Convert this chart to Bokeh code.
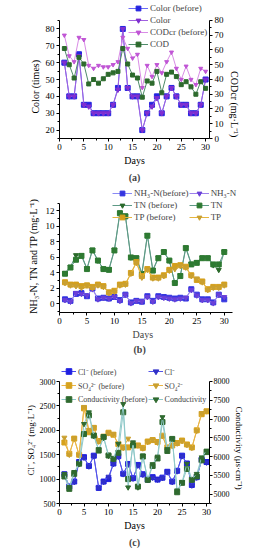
from bokeh.plotting import figure
from bokeh.models import Range1d, LinearAxis, FixedTicker, Legend, LegendItem, Title
from bokeh.layouts import column
from bokeh.embed import file_html
from bokeh.resources import INLINE

FONT = "Liberation Serif"
NB = "\u00a0"

days = list(range(1, 31))
x_ticks = [0, 5, 10, 15, 20, 25, 30]

# Panel (a)
color_before = [60, 40, 40, 65, 35, 35, 30, 30, 30, 30, 35, 45, 80, 45, 40, 40, 20, 30, 35, 40,
                30, 40, 45, 40, 35, 35, 30, 30, 35, 50]
color_after = [60, 40, 40, 64, 35, 34, 30, 30, 30, 30, 35, 44, 80, 45, 40, 40, 20, 30, 34, 39,
               30, 40, 45, 40, 35, 35, 30, 30, 35, 50]
cod_before = [70, 56, 52, 68.5, 67, 49.5, 47.5, 49.5, 48.5, 48.5, 50, 52, 68.5, 61, 54.5, 57, 34.5,
              49.5, 42, 50, 44.5, 52, 58.5, 47.5, 40, 49, 40, 36.5, 47.5, 45.5]
cod_after = [61, 50, 41, 55, 50.5, 37, 40, 37.5, 40.5, 43.5, 44.5, 45.5, 61, 50.5, 43, 41, 28, 39,
             37.5, 45.5, 31, 43.5, 45, 42, 36.5, 38.5, 35, 30, 38.5, 34]

# Panel (b)
nh3_before = [0.6, 0.4, 1.3, 1.4, 1.0, 2.0, 0.7, 0.8, 0.7, 0.9, 0.5, 1.2, 0.2, 0.4, 0.3, 1.0, 0.4,
              1.0, 0.9, 0.8, 0.7, 0.8, 0.7, 1.9, 1.2, 0.6, 0.6, 0.2, 1.2, 0.6]
nh3_after = [0.5, 0.3, 1.4, 1.3, 1.1, 1.9, 0.6, 0.8, 0.7, 0.9, 0.4, 1.2, 0.1, 0.4, 0.3, 0.9, 0.3,
             0.9, 0.8, 0.7, 0.6, 0.7, 0.8, 1.8, 1.1, 0.5, 0.5, 0.1, 1.2, 0.9]
tn_before = [4.0, 4.8, 6.3, 6.3, 4.6, 7.0, 5.6, 4.5, 4.5, 7.0, 11.8, 11.4, 6.0, 6.0, 4.0, 8.9, 4.4,
             6.0, 6.7, 5.6, 2.7, 3.7, 7.3, 5.2, 5.4, 6.0, 6.0, 5.0, 4.4, 6.7]
tn_after = [3.9, 4.7, 5.7, 6.2, 4.5, 6.9, 5.6, 4.5, 4.4, 6.9, 11.7, 11.3, 6.0, 5.9, 3.8, 8.8, 4.3,
            5.9, 6.7, 5.6, 2.7, 3.6, 7.2, 5.1, 5.3, 5.9, 5.9, 5.1, 5.1, 6.7]
tp_before = [2.8, 2.5, 2.5, 2.3, 2.4, 2.2, 2.5, 2.3, 1.5, 1.7, 2.5, 2.6, 4.0, 5.4, 3.6, 4.5, 3.4,
             3.4, 3.7, 4.4, 4.9, 5.0, 4.8, 3.7, 3.1, 2.9, 1.9, 2.2, 2.2, 2.5]
tp_after = [2.7, 2.4, 2.3, 2.1, 2.4, 2.1, 2.4, 2.2, 1.4, 1.6, 2.4, 2.5, 3.9, 5.3, 3.4, 4.4, 3.3,
            3.3, 3.6, 4.3, 4.5, 4.9, 4.7, 3.6, 3.3, 2.8, 1.8, 2.1, 2.1, 2.4]

# Panel (c)
cl_before = [1100, 850, 950, 1350, 1450, 1270, 1480, 820, 950, 1000, 1320, 1470, 1110, 1310, 1020,
             1290, 1100, 990, 1040, 990, 1030, 1150, 950, 1170, 1480, 1320, 880, 1040, 1400, 1350]
cl_after = [1080, 820, 940, 1340, 1440, 1260, 1470, 820, 940, 1050, 1310, 1460, 1100, 1300, 1010,
            1280, 1090, 980, 1030, 990, 1020, 1140, 940, 1160, 1470, 1310, 870, 1030, 1390, 1340]
so4_before = [1750, 1520, 1830, 1500, 2450, 1960, 2050, 1780, 1870, 1950, 1910, 1720, 1650, 1650,
              1690, 1690, 1640, 1770, 1800, 1760, 1890, 1650, 1690, 1740, 1790, 1710, 1650, 2000,
              2330, 2390]
so4_after = [1850, 1500, 1830, 1490, 2480, 2010, 2060, 1770, 1880, 1940, 1920, 1700, 1640, 1830,
             1680, 1690, 1630, 1760, 1810, 1750, 1880, 1620, 1680, 1730, 1780, 1700, 1640, 1990,
             2350, 2390]
cond_before = [5470, 5140, 5540, 5810, 6600, 7100, 6560, 6160, 6520, 6030, 5940, 6100, 7180, 5400,
               6300, 5200, 6000, 5380, 5750, 5950, 6920, 6150, 6470, 5050, 5300, 5670, 5380, 5470,
               5900, 6120]
cond_after = [5540, 5190, 5590, 5800, 6870, 7180, 6550, 6200, 6500, 6020, 5930, 6340, 7400, 5180,
              6380, 5180, 6030, 5390, 5800, 6000, 7050, 6200, 6480, 5100, 5320, 5810, 5390, 5540,
              5980, 6160]

W = 268


def midpoints(ticks, lo, hi):
    step = ticks[1] - ticks[0]
    out = []
    v = ticks[0] - step / 2
    while v <= hi:
        if v >= lo:
            out.append(v)
        v += step
    return out


def style_axis(ax, ticks, lo, hi, tick_size="9px", label_size="10px", label_standoff=2,
               tick_standoff=2):
    ax.ticker = FixedTicker(ticks=ticks, minor_ticks=midpoints(ticks, lo, hi))
    ax.bounds = (lo, hi)
    ax.major_label_text_font = FONT
    ax.major_label_text_font_size = tick_size
    ax.major_label_text_color = "black"
    ax.axis_label_text_font = FONT
    ax.axis_label_text_font_size = label_size
    ax.axis_label_text_font_style = "normal"
    ax.axis_label_text_color = "black"
    ax.axis_label_standoff = label_standoff
    ax.major_label_standoff = tick_standoff
    ax.major_tick_out = 3
    ax.major_tick_in = 0
    ax.minor_tick_out = 2
    ax.minor_tick_in = 0
    ax.axis_line_color = "black"
    ax.major_tick_line_color = "black"
    ax.minor_tick_line_color = "black"


def base_fig(height, xr, yr, borders, frame_width=None):
    left, right, top, bottom = borders
    kw = dict(height=height, output_backend="svg", toolbar_location=None,
              x_range=Range1d(*xr), y_range=Range1d(*yr),
              min_border_left=left, min_border_right=right,
              min_border_top=top, min_border_bottom=bottom)
    if frame_width is None:
        kw["width"] = W
    else:
        kw["frame_width"] = frame_width
    p = figure(**kw)
    p.outline_line_color = None
    p.xgrid.visible = False
    p.ygrid.visible = False
    return p


def add_series(p, store, label, y, line_color, marker_color, marker, size=5, rng="default"):
    r1 = p.line(days, y, line_color=line_color, line_width=1, y_range_name=rng)
    r2 = p.scatter(days, y, marker=marker, size=size, fill_color=marker_color,
                   line_color=marker_color, y_range_name=rng)
    store[label] = LegendItem(label=label, renderers=[r1, r2])


def add_legend(p, items, loc, ncols=1, row_h=12, font_size="9px", glyph_w=20):
    leg = Legend(items=items, location=loc, ncols=ncols, orientation="vertical",
                 label_text_font=FONT, label_text_font_size=font_size,
                 glyph_width=glyph_w, glyph_height=row_h, label_height=row_h,
                 label_standoff=2, spacing=0, padding=0, margin=0,
                 border_line_color=None, background_fill_alpha=0)
    p.add_layout(leg, "center")


def add_caption(p, text, offset=None, bold=True, size="10px", standoff=2):
    kw = dict(text=text, text_font=FONT, text_font_size=size,
              text_font_style="bold" if bold else "normal", standoff=standoff)
    if offset is None:
        kw["align"] = "center"
    else:
        kw["align"] = "left"
        kw["offset"] = offset
    p.add_layout(Title(**kw), "below")


# ---------- (a)  frame 2..138 (axis part 20..138)
pa = base_fig(188, (0, 30.8), (15, 95.7), (59, W - 209, 2, 50))
pa.extra_y_ranges = {"cod": Range1d(0, 92.2)}
sa = {}
add_series(pa, sa, "Color (before)", color_before, "#6b6bf5", "#2525e0", "square", 5)
add_series(pa, sa, "Color", color_after, "#a060e0", "#7f2fd0", "inverted_triangle", 5)
add_series(pa, sa, "CODcr (before)", cod_before, "#d98ce6", "#c055d5", "inverted_triangle", 4, "cod")
add_series(pa, sa, "COD", cod_after, "#4f8c6a", "#2d6a2d", "square", 4, "cod")
ax_r = LinearAxis(y_range_name="cod", axis_label=NB * 27 + "CODcr (mg·L⁻¹)")
pa.add_layout(ax_r, "right")
style_axis(pa.xaxis[0], x_ticks, 0, 30.8)
pa.xaxis[0].axis_label = "Days"
style_axis(pa.yaxis[0], [20, 30, 40, 50, 60, 70, 80], 15, 85)
pa.yaxis[0].axis_label = "Color (times)" + NB * 13
style_axis(ax_r, [0, 10, 20, 30, 40, 50, 60, 70, 80], 0, 80)
add_legend(pa, list(sa.values()), (69, 88), 1, 12)
add_caption(pa, "(a)")

# ---------- (b)  frame 189..315 (axis part 203..315), frame extended right for legend
px_day_b = (222 - 49) / 31.5
fw_b = W - 4 - 49
xb_end = fw_b / px_day_b
pb = base_fig(167, (0, xb_end), (-1.1, 14.76), (49, 4, 1, 40), frame_width=fw_b)
sb = {}
add_series(pb, sb, "NH₃-N(before)", nh3_before, "#8a8af5", "#3535e0", "square", 5)
add_series(pb, sb, "NH₃-N", nh3_after, "#9c80ec", "#6a40d8", "inverted_triangle", 5)
add_series(pb, sb, "TN (before)", tn_before, "#5e9a86", "#2b6a2b", "inverted_triangle", 5)
add_series(pb, sb, "TN", tn_after, "#5e9a86", "#2e7a32", "square", 5)
add_series(pb, sb, "TP (before)", tp_before, "#e5b540", "#d49f1c", "square", 5)
add_series(pb, sb, "TP", tp_after, "#e5b540", "#c9a032", "inverted_triangle", 5)
style_axis(pb.xaxis[0], x_ticks, 0, 31.5)
style_axis(pb.yaxis[0], [0, 2, 4, 6, 8, 10, 12], -1.1, 13, label_standoff=4)
pb.yaxis[0].axis_label = "NH₃-N, TN and TP (mg·L⁻¹)" + NB * 4
add_legend(pb, [sb["NH₃-N(before)"], sb["TN (before)"], sb["TP (before)"],
                sb["NH₃-N"], sb["TN"], sb["TP"]], (71, 89), 2, 12)
add_caption(pb, "Days", offset=73, bold=False, standoff=1)
add_caption(pb, "(b)", offset=74, standoff=2)

# ---------- (c)  frame 363..503 (axis part 381..503)
pc = base_fig(193, (0, 30.6), (500, 3369), (36, 28, 8, 45))
pc.extra_y_ranges = {"cond": Range1d(4750, 8479.5)}
sc = {}
add_series(pc, sc, "Cl⁻ (before)", cl_before, "#4848f0", "#1f1fe0", "square", 5)
add_series(pc, sc, "Cl⁻", cl_after, "#5555e8", "#3030c8", "inverted_triangle", 5)
add_series(pc, sc, "SO₄²⁻ (before)", so4_before, "#eab545", "#d6a21e", "square", 5)
add_series(pc, sc, "SO₄²⁻", so4_after, "#eab545", "#caa030", "inverted_triangle", 5)
add_series(pc, sc, "Conductivity (before)", cond_before, "#8fc9c9", "#2f6a2f", "square", 5, "cond")
add_series(pc, sc, "Conductivity", cond_after, "#8fc9c9", "#2f6a2f", "inverted_triangle", 5, "cond")
ax_c = LinearAxis(y_range_name="cond", axis_label=NB * 13 + "Conductivity (μs·cm⁻¹)")
pc.add_layout(ax_c, "right")
style_axis(pc.xaxis[0], x_ticks, 0, 30.6)
pc.xaxis[0].axis_label = "Days"
style_axis(pc.yaxis[0], [500, 1000, 1500, 2000, 2500, 3000], 500, 3000, tick_size="8px",
           label_size="9px", label_standoff=1, tick_standoff=1)
pc.yaxis[0].axis_label = "Cl⁻, SO₄²⁻ (mg·L⁻¹)" + NB * 6
style_axis(ax_c, [5000, 5500, 6000, 6500, 7000, 7500, 8000], 4750, 8000, tick_size="8px",
           label_size="9px", label_standoff=1, tick_standoff=1)
add_legend(pc, [sc["Cl⁻ (before)"], sc["SO₄²⁻ (before)"], sc["Conductivity (before)"],
                sc["Cl⁻"], sc["SO₄²⁻"], sc["Conductivity"]], (2, 97), 2, 14,
           font_size="8px", glyph_w=15)
add_caption(pc, "(c)")

layout = column(pa, pb, pc)
open("out.html", "w", encoding="utf-8").write(file_html(layout, INLINE))
